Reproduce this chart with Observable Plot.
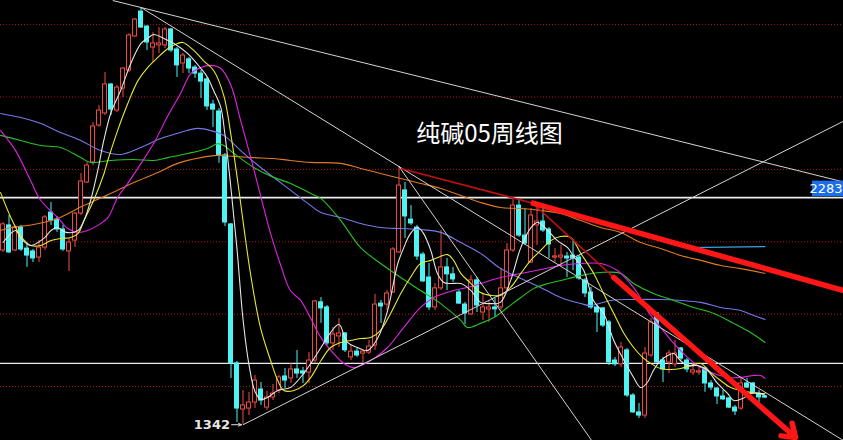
<!DOCTYPE html>
<html><head><meta charset="utf-8">
<script src="https://cdn.jsdelivr.net/npm/d3@7"></script>
<script src="https://cdn.jsdelivr.net/npm/@observablehq/plot@0.6"></script>
<style>html,body{margin:0;padding:0;background:#000;overflow:hidden}</style>
</head><body><div id="chart"></div>
<script>
// ---- weekly candles (index 0..127) ----
const open=[2064,2168,2064,2159,2072,2060,2035,2076,2221,2192,2151,2060,2105,2217,2346,2429,2582,2632,2752,2644,2735,2810,2951,3054,2992,2905,2914,2914,2980,2897,2839,2856,2822,2797,2773,2669,2640,2458,2172,1596,1405,1409,1434,1488,1413,1455,1484,1542,1534,1571,1563,1558,1608,1849,1828,1679,1708,1720,1621,1645,1637,1641,1670,1844,1840,1890,2056,2313,2192,2159,2047,1952,1828,1907,1994,1965,1890,1840,1799,1940,1807,1820,1828,1828,1907,2064,2250,2126,2014,2168,2184,2151,2035,2035,2039,2043,2035,1940,1890,1828,1824,1766,1608,1592,1650,1463,1393,1380,1629,1803,1608,1600,1592,1658,1608,1558,1558,1575,1513,1492,1459,1451,1413,1409,1513,1513,1471,1459];
const close=[2172,2056,2159,2068,2043,2031,2076,2201,2188,2151,2068,2097,2217,2350,2416,2578,2644,2752,2648,2739,2818,2955,3021,2988,2926,2922,2922,2980,2893,2831,2872,2818,2797,2764,2661,2648,2458,2180,1596,1409,1422,1434,1525,1442,1455,1471,1538,1525,1571,1554,1554,1608,1853,1824,1679,1716,1720,1650,1645,1629,1645,1666,1840,1832,1886,2068,2333,2205,2176,2039,1936,1828,1907,1994,1965,1944,1844,1803,1940,1836,1828,1828,1820,1907,2064,2250,2126,2093,2209,2184,2147,2089,2039,2043,2031,2031,1948,1886,1828,1807,1753,1600,1592,1662,1463,1393,1380,1637,1766,1600,1571,1637,1637,1616,1571,1567,1563,1513,1496,1459,1447,1413,1397,1513,1496,1476,1455,1455];
const high=[2180,2209,2168,2168,2093,2068,2105,2209,2263,2205,2168,2114,2221,2383,2429,2594,2665,2802,2756,2748,2822,2963,3025,3071,2996,2967,2988,2988,2984,2905,2880,2864,2831,2810,2781,2686,2652,2466,2176,1604,1484,1476,1546,1517,1480,1509,1546,1575,1596,1650,1579,1641,1857,1869,1836,1745,1782,1724,1670,1658,1650,1691,1882,1857,1898,2076,2412,2346,2250,2168,2056,2010,1927,2147,2031,1994,1898,1849,1960,1952,1886,1857,1865,1989,2093,2275,2275,2238,2238,2250,2242,2159,2072,2085,2056,2110,2043,1948,1911,1836,1828,1774,1621,1683,1658,1471,1430,1662,1782,1807,1621,1650,1691,1662,1616,1596,1579,1579,1525,1496,1484,1455,1422,1534,1534,1517,1484,1463];
const low=[2056,2052,2060,2060,1994,2014,2014,2064,2168,2139,2060,1977,2076,2209,2342,2416,2574,2623,2623,2636,2698,2802,2947,2984,2893,2843,2880,2901,2885,2781,2797,2797,2777,2694,2644,2574,2425,2163,1534,1351,1342,1380,1409,1422,1401,1442,1471,1492,1513,1534,1513,1513,1596,1762,1670,1650,1662,1641,1608,1621,1596,1633,1650,1762,1815,1886,2052,2114,2168,2023,1931,1815,1815,1898,1898,1931,1840,1757,1795,1807,1774,1766,1786,1815,1898,2056,2118,2085,2010,2085,2139,2031,2014,2002,1952,1981,1940,1869,1820,1724,1745,1587,1583,1579,1455,1389,1368,1368,1621,1596,1517,1554,1579,1608,1558,1546,1546,1476,1484,1426,1442,1409,1380,1401,1492,1471,1434,1451];

// ---- moving averages: [candle index, price] ----
const ma5=[[0,2097],[2.1,2147],[3,2114],[4.6,2085],[6.8,2114],[8,2147],[9,2159],[10.5,2139],[12.5,2147],[13.5,2188],[14.6,2271],[15.8,2396],[16.8,2520],[18,2636],[19.6,2727],[21.3,2839],[23,2922],[24.1,2943],[25.1,2959],[26.8,2943],[28.5,2922],[30.8,2880],[33,2818],[34.1,2781],[35.1,2727],[36.3,2657],[37,2542],[38,2320],[39,2070],[40,1780],[41,1590],[42,1480],[43,1447],[44.1,1455],[45.8,1484],[47.9,1496],[50.1,1554],[51.3,1596],[53,1662],[54.6,1724],[56,1757],[57.4,1683],[59.1,1662],[60.8,1650],[62.5,1703],[64.1,1815],[65.8,2010],[66.8,2076],[67.9,2134],[69.1,2159],[70.1,2134],[71.3,2064],[72.4,1969],[73.5,1931],[74.6,1927],[76.3,1927],[78,1898],[79.6,1849],[81.3,1844],[82.9,1849],[84.6,1940],[86.3,2076],[88,2159],[89.1,2180],[90.8,2147],[92.4,2105],[94.1,2076],[95,2043],[96.8,1981],[98.4,1857],[100.1,1803],[101.8,1691],[103.5,1608],[105.1,1538],[106.3,1496],[107.4,1517],[108.4,1567],[109.6,1608],[110.8,1629],[111.8,1637],[112.9,1608],[114.1,1587],[115.8,1587],[117.4,1567],[119.1,1513],[120.8,1471],[121.8,1442],[123.3,1451],[124.6,1471],[126.3,1471],[127,1463]];
const ma10=[[-0.4,2304],[1.3,2201],[2.9,2126],[4.6,2085],[6.3,2085],[8,2105],[9.6,2114],[11.3,2118],[12.5,2134],[13.5,2188],[15.1,2271],[16.8,2380],[17.5,2440],[19.1,2561],[20.8,2673],[22.5,2768],[24.1,2822],[25.8,2864],[27.5,2901],[29.1,2922],[30,2926],[31.8,2893],[33.4,2851],[35.1,2810],[36.8,2706],[38,2541],[39.1,2354],[40.1,2168],[41.3,1960],[42.9,1745],[44.6,1608],[45.8,1525],[46.8,1484],[48.5,1484],[50.1,1505],[51.3,1538],[53,1608],[54.6,1662],[56.3,1683],[57.9,1691],[59.6,1699],[61.3,1703],[62.9,1732],[64.6,1803],[66.3,1886],[67.9,1952],[69.6,2010],[71.3,2023],[72.5,2035],[74.1,2047],[75.1,2023],[76.3,1969],[78,1927],[79.6,1890],[81.3,1878],[82.9,1878],[84.6,1911],[86.3,1969],[87.95,2023],[89.6,2064],[91.3,2105],[92.9,2122],[94.6,2118],[96.3,2052],[98.45,1969],[100.1,1886],[101.8,1803],[103.5,1720],[105.1,1662],[106.6,1621],[107.95,1596],[109.6,1575],[111.3,1571],[112.95,1575],[114.6,1587],[116.3,1596],[117.95,1558],[119.6,1525],[121.3,1496],[122.95,1484],[124.6,1476],[126.3,1471],[127,1471]];
const ma20=[[-0.4,2561],[2.1,2478],[4.6,2354],[6.3,2271],[9.1,2201],[10.8,2155],[12.5,2139],[14.1,2147],[15.8,2168],[17.5,2201],[19.1,2284],[20.8,2342],[23,2425],[25.1,2507],[27.5,2623],[29.6,2715],[31.3,2797],[33,2822],[34.6,2831],[36.3,2818],[38,2748],[39.6,2603],[41.3,2449],[43,2284],[44.6,2134],[46.3,2002],[47.9,1898],[49.6,1857],[51.3,1782],[53,1703],[55.1,1637],[56.8,1596],[58.5,1579],[60.1,1592],[61.8,1616],[64.1,1662],[66.8,1745],[69.6,1828],[71.8,1869],[75.1,1898],[77.4,1911],[79.6,1927],[82.9,1952],[86.3,1969],[89.6,1985],[92.9,2002],[96.3,2010],[99.6,2010],[102.4,1981],[104.1,1940],[105.8,1886],[107.4,1815],[109.6,1745],[111.8,1679],[114.1,1621],[116.3,1579],[118.5,1554],[120.8,1538],[122.95,1538],[125.1,1546],[126.3,1546],[127,1534]];
const ma40=[[-0.4,2541],[2.95,2520],[6.3,2499],[9.6,2491],[12.95,2449],[14.6,2429],[17.95,2437],[21.8,2441],[25.1,2437],[27.5,2449],[30.8,2466],[34.1,2487],[35.8,2507],[36.8,2499],[38.5,2466],[41.8,2408],[45.1,2367],[47.95,2342],[51.3,2300],[53,2279],[56.3,2188],[59.6,2076],[62.95,2010],[66.3,1952],[69.6,1898],[72.95,1844],[76.3,1774],[77.4,1745],[79.6,1762],[81.8,1786],[84.1,1828],[86.3,1869],[88.5,1907],[90.8,1927],[92.95,1940],[96.3,1960],[99.6,1973],[102.95,1969],[105.1,1927],[108.4,1886],[111.8,1857],[115.1,1828],[118.5,1803],[121.8,1762],[124.6,1724],[127,1683]];
const ma60=[[-0.4,2632],[2.95,2615],[6.3,2590],[9.6,2553],[12.95,2520],[16.3,2478],[19.6,2462],[22.95,2491],[26.3,2528],[29.6,2553],[32.4,2570],[34.6,2561],[36.8,2541],[39.6,2478],[42.95,2408],[45.8,2354],[47.95,2313],[51.3,2250],[53,2221],[56.3,2201],[59.6,2176],[62.95,2159],[66.3,2155],[69.6,2151],[72.95,2139],[76.3,2097],[79.6,2052],[82.95,1989],[86.3,1948],[89.6,1911],[92.95,1869],[96.3,1844],[97.95,1836],[101.3,1857],[105.1,1861],[109.6,1861],[112.95,1857],[116.3,1849],[119.6,1828],[122.95,1815],[125.1,1795],[127,1778]];
const ma120=[[-0.4,2147],[1.3,2159],[5.1,2172],[9.1,2197],[13.45,2250],[17.95,2300],[21.8,2346],[25.8,2387],[29.1,2425],[32.95,2449],[35.8,2458],[38.5,2454],[41.8,2449],[45.1,2445],[47.95,2437],[51.3,2429],[56.3,2425],[59.6,2404],[62.95,2383],[66.3,2362],[69.6,2342],[72.95,2321],[76.3,2292],[79.6,2263],[82.95,2242],[86.3,2238],[89.6,2230],[92.95,2217],[96.3,2188],[99.6,2159],[102.95,2139],[106.3,2097],[109.6,2072],[112.95,2043],[116.3,2023],[119.6,2002],[122.95,1989],[127,1969]];
const ma250=[[114,2076],[127,2080]];

// ---- drawn trend lines: [index, price] endpoints ----
const whiteLines=[[[23,3071],[140.1,1276]],[[18.3,3100],[140.1,2348]],[[66,2412],[98.1,1277]],[[40,1342],[140.1,2600]]];
const redThin=[[[66.3,2404],[88,2262]],[[88.5,2255],[101.8,1952]]];
const redThick=[[[88,2262],[140.1,1898]]];
const redArrow=[[[101.8,1952],[132.1,1289]]];

// ---- levels and labels ----
const title="纯碱05周线图";
const gridLevels=[3000,2700,2400,2100,1800,1500];
const whiteLevels=[2283,1596];
const markLevel=2283;
const lowLevel=1342, lowIndex=40;

const W=843,H=440;
const xDomain=[-0.4167,140.0833];
const yDomain=[1276.6,3100];
const uY=(yDomain[1]-yDomain[0])/H, uX=(xDomain[1]-xDomain[0])/W;
const RED="#f24a42", CYAN="#4ef4f4";
const candles=open.map((o,i)=>{const lo=Math.min(o,close[i]),hi=Math.max(o,close[i]);const pad=Math.max(0,(uY*1.2-(hi-lo))/2);return {i,o,c:close[i],h:high[i],l:low[i],b1:lo-pad,b2:hi+pad,up:close[i]>o};});
const up=candles.filter(d=>d.up), dn=candles.filter(d=>!d.up);
const pts=a=>a.map(([i,v])=>({i,v}));
const segs=a=>a.map(([[a1,b1],[a2,b2]])=>({x1:a1,y1:b1,x2:a2,y2:b2}));
const maLine=(a,color)=>Plot.line(pts(a),{x:"i",y:"v",stroke:color,strokeWidth:1.1,curve:"catmull-rom"});

const chart=Plot.plot({
  width:W,height:H,margin:0,
  x:{domain:xDomain,axis:null},
  y:{domain:yDomain,axis:null},
  style:{background:"#000",overflow:"hidden"},
  marks:[
    Plot.ruleY(gridLevels,{stroke:"#b3141a",strokeDasharray:"1,2",strokeWidth:1}),
    Plot.ruleY(whiteLevels,{stroke:"#ececec",strokeWidth:d=>d===markLevel?1.6:1.2}),
    Plot.ruleX(up,{x:"i",y1:"l",y2:"h",stroke:RED,strokeWidth:1}),
    Plot.ruleX(dn,{x:"i",y1:"l",y2:"h",stroke:CYAN,strokeWidth:1}),
    Plot.rect(up,{x1:d=>d.i-2/6,x2:d=>d.i+2/6,y1:"b1",y2:"b2",fill:"#000",stroke:RED,strokeWidth:1}),
    Plot.rect(dn,{x1:d=>d.i-2/6,x2:d=>d.i+2/6,y1:"b1",y2:"b2",fill:CYAN,stroke:CYAN,strokeWidth:1}),
    maLine(ma120,"#e07a22"),
    maLine(ma60,"#7878ea"),
    maLine(ma40,"#26c426"),
    maLine(ma20,"#e024e0"),
    maLine(ma10,"#e8e832"),
    maLine(ma5,"#e6e6e6"),
    maLine(ma250,"#3f9fe6"),
    Plot.link(segs(whiteLines),{x1:"x1",y1:"y1",x2:"x2",y2:"y2",stroke:"#d4d4d4",strokeWidth:1}),
    Plot.link(segs(redThin),{x1:"x1",y1:"y1",x2:"x2",y2:"y2",stroke:"#c41010",strokeWidth:1.6}),
    Plot.link(segs(redThick),{x1:"x1",y1:"y1",x2:"x2",y2:"y2",stroke:"#ff1616",strokeWidth:5.5}),
    Plot.arrow(segs(redArrow),{x1:"x1",y1:"y1",x2:"x2",y2:"y2",stroke:"#ff1616",strokeWidth:5.5,headLength:4,headAngle:70}),
    Plot.arrow([lowLevel],{x1:lowIndex-1.9,x2:lowIndex-0.25,y1:d=>d,y2:d=>d,stroke:"#e0e0e0",strokeWidth:1,headLength:6,headAngle:50}),
    Plot.text([lowLevel],{x:lowIndex,y:d=>d,dx:-13,text:d=>String(d),textAnchor:"end",fill:"#e6e6e6",fontSize:13,fontWeight:"bold",fontFamily:"DejaVu Sans"}),
    Plot.rect([markLevel],{x1:xDomain[1]-31*uX,x2:xDomain[1],y1:d=>d+1*uY,y2:d=>d+16.5*uY,fill:"#1a6fe8"}),
    Plot.text([markLevel],{x:xDomain[1],y:d=>d,dy:-9,dx:-1,text:d=>String(d),textAnchor:"end",fill:"#ffffff",fontSize:13,fontFamily:"DejaVu Sans"}),
    Plot.text([title],{frameAnchor:"top-left",dx:489,dy:134,text:d=>d,textAnchor:"middle",lineAnchor:"middle",fill:"#ffffff",fontSize:24,fontFamily:"Noto Sans CJK SC"})
  ]
});
document.getElementById("chart").appendChild(chart);
</script>
</body></html>
